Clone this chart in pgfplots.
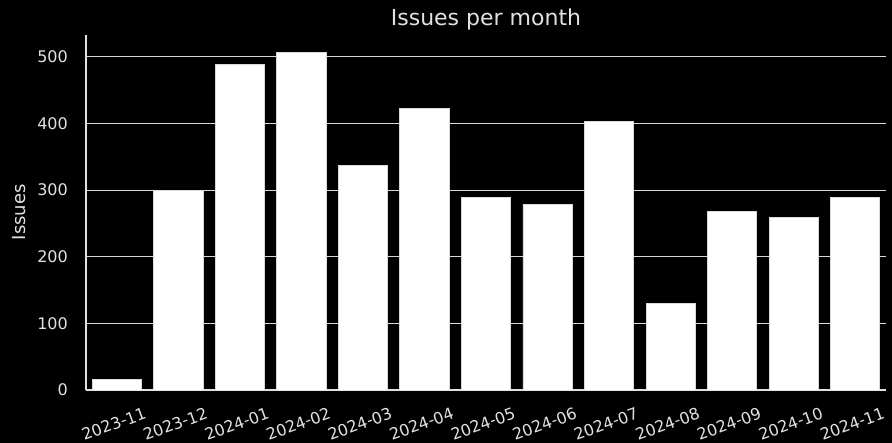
\documentclass[border=0pt]{standalone}
\usepackage{fontspec}
\setmainfont{DejaVu Sans}
\usepackage{pgfplots}
\pgfplotsset{compat=1.18}
\definecolor{fg}{RGB}{225,225,225}
\definecolor{gridc}{RGB}{215,215,215}

\begin{document}
\begin{tikzpicture}
\fill[black] (-86pt,-53pt) rectangle (806pt,390pt);
\useasboundingbox (-86pt,-53pt) rectangle (806pt,390pt);
\begin{axis}[
  at={(0pt,0pt)}, anchor=south west,
  scale only axis, width=800pt, height=355.3pt,
  xmin=-0.5, xmax=12.5, ymin=0, ymax=533,
  ybar, bar width=0.8,
  axis x line*=bottom, axis y line*=left,
  axis line style={fg, line width=1.2pt, -},
  ytick={0,100,...,500},
  xtick={0,...,12},
  xticklabels={2023-11,2023-12,2024-01,2024-02,2024-03,2024-04,2024-05,2024-06,2024-07,2024-08,2024-09,2024-10,2024-11},
  major tick length=0pt,
  ymajorgrids, grid style={gridc, line width=1pt},
  tick label style={font=\fontsize{16}{19}\selectfont, text=fg},
  /pgf/number format/assume math mode=true,
  yticklabel style={anchor=east, inner sep=0pt, xshift=-18pt},
  xticklabel style={xshift=-3pt, yshift=-34pt, anchor=center, inner sep=0pt, rotate=20},
  title={Issues per month},
  title style={at={(axis description cs:0.5,1)}, anchor=base, yshift=3pt,
    font=\fontsize{22}{26}\selectfont, text=fg},
  ylabel={Issues},
  ylabel style={at={(axis description cs:-0.08375,0.5)}, anchor=center,
    font=\fontsize{18}{22}\selectfont, text=fg},
]
\addplot[fill=white, draw=white!85!black, line width=0.8pt] coordinates {
(0,16) (1,300) (2,489) (3,506) (4,337) (5,423) (6,289)
(7,279) (8,403) (9,130) (10,268) (11,259) (12,289)
};
\end{axis}
\end{tikzpicture}
\end{document}
